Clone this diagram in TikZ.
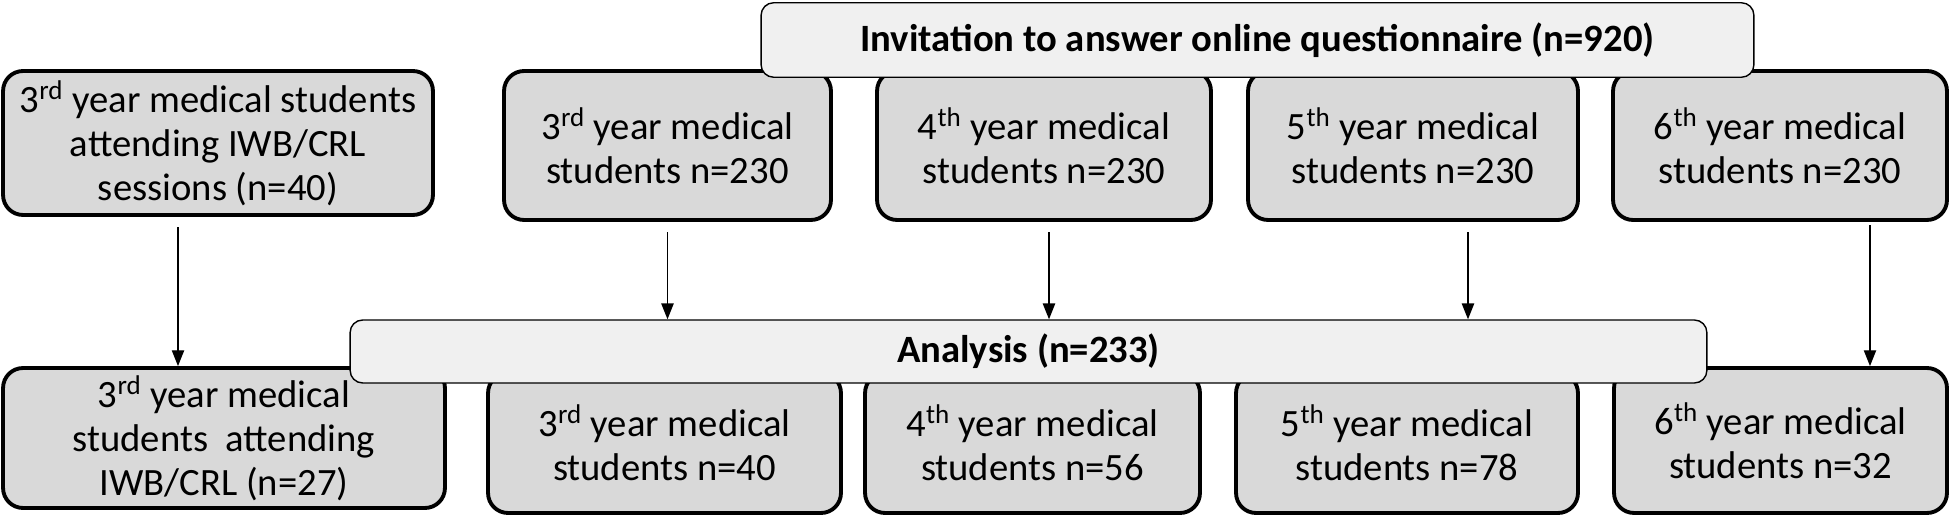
\documentclass[tikz,border=0pt]{standalone}
\usepackage{fontspec}
\setmainfont{Carlito}
\usetikzlibrary{arrows.meta}
\definecolor{boxgray}{HTML}{D9D9D9}
\definecolor{bargray}{HTML}{F0F0F0}

\begin{document}
\begin{tikzpicture}[x=0.02cm,y=-0.02cm,
    grp/.style={draw,line width=2.2pt,rounded corners=0.4cm,fill=boxgray,
      align=center,inner sep=0pt,font=\fontsize{22}{25}\selectfont},
    bar/.style={draw,line width=0.8pt,rounded corners=0.25cm,fill=bargray,
      inner sep=0pt,font=\bfseries\fontsize{22}{25}\selectfont},
    arr/.style={line width=0.8pt,-{Triangle[length=9pt,width=7pt]}}]
      \useasboundingbox (0,0) rectangle (1951,520) ;
      % top row
      \node[grp,minimum width=8.6cm,minimum height=2.88cm] (sess) at (218,143)
        {3\textsuperscript{rd} year medical students\\attending IWB/CRL\\sessions (n=40)} ;
      \node[grp,minimum width=6.54cm,minimum height=2.98cm] (y3) at (667.5,145.5)
        {3\textsuperscript{rd} year medical\\students n=230} ;
      \node[grp,minimum width=6.68cm,minimum height=2.98cm] (y4) at (1044,145.5)
        {4\textsuperscript{th} year medical\\students n=230} ;
      \node[grp,minimum width=6.6cm,minimum height=2.98cm] (y5) at (1413,145.5)
        {5\textsuperscript{th} year medical\\students n=230} ;
      \node[grp,minimum width=6.68cm,minimum height=2.98cm] (y6) at (1780,145.5)
        {6\textsuperscript{th} year medical\\students n=230} ;
      % bottom row
      \node[grp,minimum width=8.84cm,minimum height=2.8cm] (iwb) at (224,438)
        {3\textsuperscript{rd} year medical\\students\ \ attending\\IWB/CRL (n=27)} ;
      \node[grp,minimum width=7.06cm,minimum height=2.8cm] (a3) at (664.5,443)
        {3\textsuperscript{rd} year medical\\students n=40} ;
      \node[grp,minimum width=6.7cm,minimum height=2.8cm] (a4) at (1032.5,443)
        {4\textsuperscript{th} year medical\\students n=56} ;
      \node[grp,minimum width=6.84cm,minimum height=2.8cm] (a5) at (1407,443)
        {5\textsuperscript{th} year medical\\students n=78} ;
      \node[grp,minimum width=6.66cm,minimum height=2.9cm] (a6) at (1780.5,440.5)
        {6\textsuperscript{th} year medical\\students n=32} ;
      % banners
      \node[bar,minimum width=19.86cm,minimum height=1.49cm] (inv) at (1257.5,40)
        {Invitation to answer online questionnaire (n=920)} ;
      \node[bar,minimum width=27.14cm,minimum height=1.26cm] (ana) at (1028.5,351.5)
        {Analysis (n=233)} ;
      % arrows
      \draw[arr] ([xshift=-0.8cm,yshift=-6pt]sess.south) -- ([xshift=-0.8cm]sess.south |- iwb.north) ;
      \draw[arr] ([yshift=-6pt]y3.south) -- (y3.south |- ana.north) ;
      \draw[arr] ([xshift=0.1cm,yshift=-6pt]y4.south) -- ([xshift=0.1cm]y4.south |- ana.north) ;
      \draw[arr] ([xshift=1.1cm,yshift=-6pt]y5.south) -- ([xshift=1.1cm]y5.south |- ana.north) ;
      \draw[arr] ([xshift=1.8cm,yshift=-2pt]y6.south) -- ([xshift=1.8cm]y6.south |- a6.north) ;
\end{tikzpicture}
\end{document}
